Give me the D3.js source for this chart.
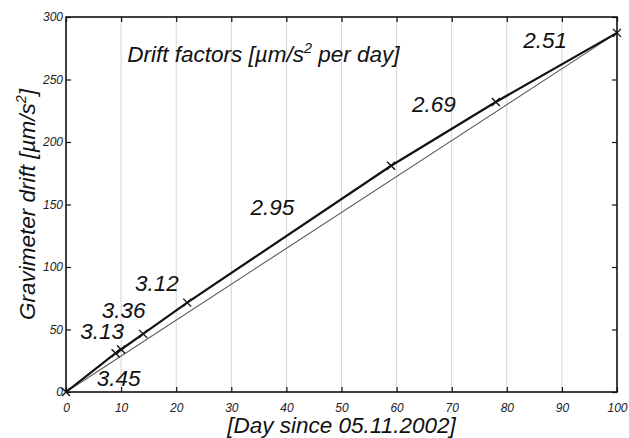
<!DOCTYPE html>
<html>
<head>
<meta charset="utf-8">
<script src="https://cdn.jsdelivr.net/npm/d3@7"></script>
<style>
  html, body { margin: 0; padding: 0; background: #fff; }
  svg { display: block; }
  text { font-family: "Liberation Sans", Arial, sans-serif; font-style: italic; }
</style>
</head>
<body>
<svg id="chart" width="629" height="438"></svg>
<script>
// Measured gravimeter drift at each observation day
const days  = [0, 9, 10, 14, 22, 59, 78, 100];
const drift = [0, 31, 34, 46.5, 71.5, 181, 232, 287.3];

// Drift factor for each interval [µm/s² per day], with label anchors in data units
const factors   = ["3.45", "3.13", "3.36", "3.12", "2.95", "2.69", "2.51"];
const factorDay = [5.6, 2.6, 6.5, 12.5, 33.5, 62.8, 83.0];
const factorVal = [4.8, 42.4, 59.2, 80.8, 141.5, 224, 275.2];

const xTicks = [0, 10, 20, 30, 40, 50, 60, 70, 80, 90, 100];
const yTicks = [0, 50, 100, 150, 200, 250, 300];

const svg = d3.select("#chart");
const m = { left: 66, top: 17, right: 12, bottom: 46 };
const W = 629 - m.left - m.right;
const H = 438 - m.top - m.bottom;

const x = d3.scaleLinear().domain([0, 100]).range([0, W]);
const y = d3.scaleLinear().domain([0, 300]).range([H, 0]);

const g = svg.append("g").attr("transform", `translate(${m.left},${m.top})`);

// vertical grid lines
g.append("g").selectAll("line")
  .data(xTicks.filter(d => d > 0 && d < 100))
  .join("line")
  .attr("x1", d => x(d)).attr("x2", d => x(d))
  .attr("y1", 0).attr("y2", H)
  .attr("stroke", "#d4d4d4").attr("stroke-width", 1);

// axes with inward ticks on all four sides
const tickStyle = sel => {
  sel.select(".domain").remove();
  sel.selectAll(".tick line").attr("stroke", "#111").attr("stroke-width", 1.2);
};
const labelStyle = sel => sel.selectAll("text")
  .attr("font-size", 12).attr("fill", "#222")
  .attr("font-family", "Liberation Sans, Arial, sans-serif").attr("font-style", "italic");

g.append("g").attr("transform", `translate(0,${H})`)
  .call(d3.axisBottom(x).tickValues(xTicks).tickSizeInner(-5).tickSizeOuter(0).tickPadding(11))
  .call(tickStyle).call(labelStyle);
g.append("g")
  .call(d3.axisTop(x).tickValues(xTicks).tickSizeInner(-5).tickSizeOuter(0).tickFormat(""))
  .call(tickStyle);
g.append("g")
  .call(d3.axisLeft(y).tickValues(yTicks).tickSizeInner(-5).tickSizeOuter(0).tickPadding(3))
  .call(tickStyle).call(labelStyle);
g.append("g").attr("transform", `translate(${W},0)`)
  .call(d3.axisRight(y).tickValues(yTicks).tickSizeInner(-5).tickSizeOuter(0).tickFormat(""))
  .call(tickStyle);

// plot frame
g.append("rect").attr("x", 0).attr("y", 0).attr("width", W).attr("height", H)
  .attr("fill", "none").attr("stroke", "#111").attr("stroke-width", 1.6);

// straight reference line from first to last observation
const n = days.length - 1;
g.append("line")
  .attr("x1", x(days[0])).attr("y1", y(drift[0]))
  .attr("x2", x(days[n])).attr("y2", y(drift[n]))
  .attr("stroke", "#5a5a5a").attr("stroke-width", 1.1);

// piecewise drift curve
const pts = days.map((d, i) => [d, drift[i]]);
g.append("path").datum(pts)
  .attr("d", d3.line().x(d => x(d[0])).y(d => y(d[1])))
  .attr("fill", "none").attr("stroke", "#111").attr("stroke-width", 2.2);

// cross markers
const s = 4;
g.append("g").selectAll("path").data(pts).join("path")
  .attr("d", d => {
    const cx = x(d[0]), cy = y(d[1]);
    return `M${cx - s},${cy - s}L${cx + s},${cy + s}M${cx - s},${cy + s}L${cx + s},${cy - s}`;
  })
  .attr("stroke", "#111").attr("stroke-width", 1.4);

// drift factor labels
g.append("g").selectAll("text").data(factors).join("text")
  .attr("x", (d, i) => x(factorDay[i])).attr("y", (d, i) => y(factorVal[i]))
  .attr("font-size", 22.5).attr("fill", "#111")
  .text(d => d);

// heading inside the plot
const title = g.append("text")
  .attr("x", x(11.1)).attr("y", y(264.3))
  .attr("font-size", 22.5).attr("fill", "#111");
title.append("tspan").text("Drift factors [µm/s");
title.append("tspan").attr("font-size", 14.5).attr("dy", -9).text("2");
title.append("tspan").attr("dy", 9).text(" per day]");

// axis titles
svg.append("text")
  .attr("x", m.left + W / 2).attr("y", 433)
  .attr("text-anchor", "middle").attr("font-size", 22.5).attr("fill", "#111")
  .text("[Day since 05.11.2002]");

const yl = svg.append("text")
  .attr("transform", `translate(35,${m.top + H / 2}) rotate(-90)`)
  .attr("text-anchor", "middle").attr("font-size", 22.5).attr("fill", "#111");
yl.append("tspan").text("Gravimeter drift [µm/s");
yl.append("tspan").attr("font-size", 14.5).attr("dy", -9).text("2");
yl.append("tspan").attr("dy", 9).text("]");
</script>
</body>
</html>
